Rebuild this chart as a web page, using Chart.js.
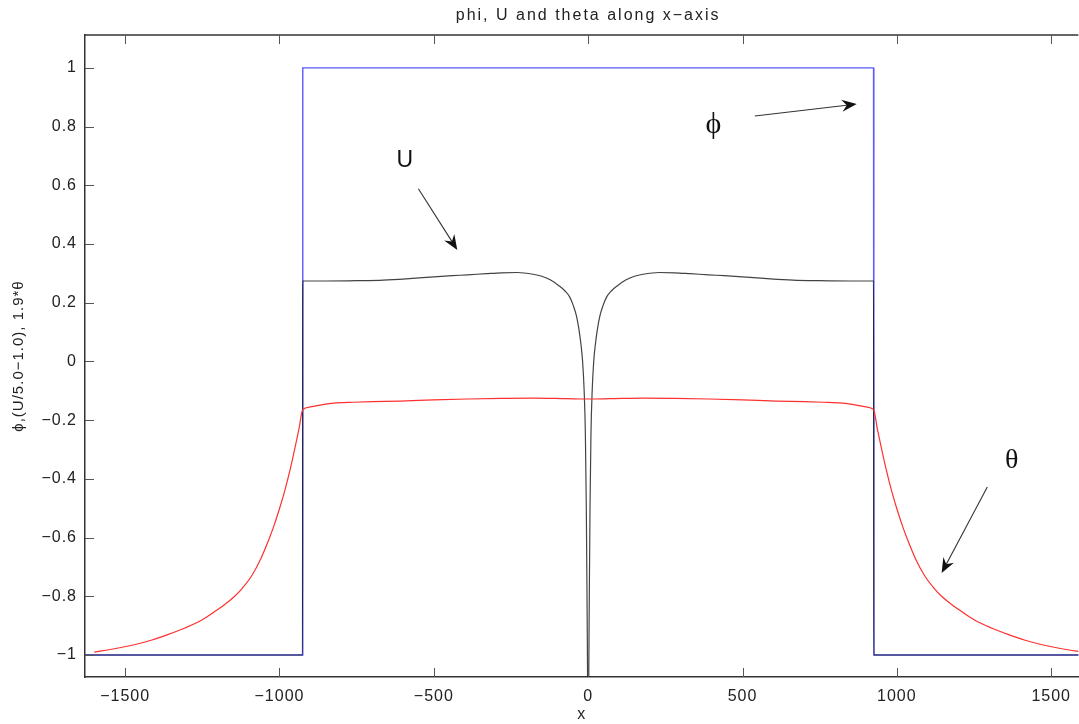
<!DOCTYPE html>
<html lang="en">
<head>
<meta charset="UTF-8">
<title>phi, U and theta along x-axis</title>
<script src="https://cdn.jsdelivr.net/npm/chart.js"></script>
<style>
  body { margin: 0; background: #fff; }
</style>
</head>
<body>
<canvas id="plot" width="1079" height="724"></canvas>
<script>
// tick labels
const xTicks = [-1500, -1000, -500, 0, 500, 1000, 1500];
const yTicks = [-1, -0.8, -0.6, -0.4, -0.2, 0, 0.2, 0.4, 0.6, 0.8, 1];

// phi (blue)
const phiX = [-1630, -925.5, -924.5, 924.5, 925.5, 1630];
const phiY = [-1, -1, 1, 1, -1, -1];

// U/5.0 - 1.0 (black)
const uX = [-1630, -925.5, -924.5, -850, -750, -663, -580, -500, -440, -390, -330, -280, -230, -178, -150, -123, -95, -75, -60, -48, -38, -30, -23, -18, -13, -9, -6, -3, 0,
            3, 6, 9, 13, 18, 23, 30, 38, 48, 60, 75, 95, 123, 150, 178, 230, 280, 330, 390, 440, 500, 580, 663, 750, 850, 924.5, 925.5, 1630];
const uY = [-1, -1, 0.274, 0.274, 0.275, 0.277, 0.282, 0.288, 0.292, 0.295, 0.299, 0.302, 0.303, 0.297, 0.29, 0.278, 0.258, 0.24, 0.22, 0.19, 0.155, 0.11, 0.055, 0.0, -0.1, -0.25, -0.5, -0.9, -1.3,
            -0.9, -0.5, -0.25, -0.1, 0.0, 0.055, 0.11, 0.155, 0.19, 0.22, 0.24, 0.258, 0.278, 0.29, 0.297, 0.303, 0.302, 0.299, 0.295, 0.292, 0.288, 0.282, 0.277, 0.275, 0.274, 0.274, -1, -1];

// 1.9*theta (red)
const thX = [-1600, -1530, -1470, -1413, -1360, -1306, -1250, -1200, -1175, -1145, -1120, -1090, -1060, -1038, -1020, -1000, -983, -965, -950, -937, -925,
             -900, -860, -824, -760, -700, -608, -500, -391, -280, -178, -68, 0,
             68, 178, 280, 391, 500, 608, 700, 760, 824, 860, 900,
             925, 937, 950, 965, 983, 1000, 1020, 1038, 1060, 1090, 1120, 1145, 1175, 1200, 1250, 1306, 1360, 1413, 1470, 1530, 1600];
const thY = [-0.99, -0.978, -0.965, -0.949, -0.93, -0.908, -0.88, -0.845, -0.826, -0.8, -0.772, -0.73, -0.671, -0.616, -0.566, -0.502, -0.441, -0.366, -0.295, -0.231, -0.165,
             -0.155, -0.147, -0.142, -0.139, -0.137, -0.135, -0.131, -0.128, -0.126, -0.125, -0.127, -0.128,
             -0.127, -0.125, -0.126, -0.128, -0.131, -0.135, -0.137, -0.139, -0.142, -0.147, -0.155,
             -0.165, -0.231, -0.295, -0.366, -0.441, -0.502, -0.566, -0.616, -0.671, -0.73, -0.772, -0.8, -0.826, -0.845, -0.88, -0.908, -0.93, -0.949, -0.965, -0.978, -0.99];

// text notes with arrows (data coordinates)
const notes = [
  { text: 'U', font: '23px "Liberation Sans", Arial', x: -592, y: 0.683, from: [-550, 0.588], to: [-424, 0.38] },
  { text: '\u03D5', font: '30px "Liberation Serif", serif', x: 407, y: 0.806, from: [540, 0.836], to: [870, 0.877] },
  { text: '\u03B8', font: '28px "Liberation Serif", serif', x: 1374, y: -0.339, from: [1293, -0.428], to: [1145, -0.721] }
];

const pts = (xs, ys) => xs.map((x, i) => ({ x: x, y: ys[i] }));
const fmt = v => String(v).replace('-', '\u2212');
const font = { family: '"Liberation Sans", Arial, sans-serif', size: 16 };

const frame = {
  id: 'frame',
  beforeDraw(chart) {
    chart.ctx.letterSpacing = '1px';
  },
  afterDatasetsDraw(chart) {
    const { ctx, scales: { x, y } } = chart;
    ctx.save();
    ctx.fillStyle = '#111';
    ctx.strokeStyle = '#333';
    ctx.lineWidth = 1.1;
    ctx.textAlign = 'center';
    ctx.textBaseline = 'middle';
    notes.forEach(n => {
      ctx.font = n.font;
      ctx.fillText(n.text, x.getPixelForValue(n.x), y.getPixelForValue(n.y));
      const x0 = x.getPixelForValue(n.from[0]), y0 = y.getPixelForValue(n.from[1]);
      const x1 = x.getPixelForValue(n.to[0]), y1 = y.getPixelForValue(n.to[1]);
      const ang = Math.atan2(y1 - y0, x1 - x0);
      const L = 15, W = 6;
      const bx = x1 - L * Math.cos(ang), by = y1 - L * Math.sin(ang);
      ctx.beginPath();
      ctx.moveTo(x0, y0);
      ctx.lineTo(x1 - 8 * Math.cos(ang), y1 - 8 * Math.sin(ang));
      ctx.stroke();
      ctx.beginPath();
      ctx.moveTo(x1, y1);
      ctx.lineTo(bx - W * Math.sin(ang), by + W * Math.cos(ang));
      ctx.lineTo(x1 - 10 * Math.cos(ang), y1 - 10 * Math.sin(ang));
      ctx.lineTo(bx + W * Math.sin(ang), by - W * Math.cos(ang));
      ctx.closePath();
      ctx.fill();
    });
    ctx.restore();
  },
  afterDraw(chart) {
    const { ctx, chartArea: a, scales: { x, y } } = chart;
    ctx.save();
    ctx.strokeStyle = '#333';
    ctx.lineWidth = 1.5;
    ctx.beginPath();
    ctx.moveTo(a.left, a.top);
    ctx.lineTo(a.right, a.top);
    ctx.stroke();
    ctx.strokeStyle = '#555';
    ctx.lineWidth = 1;
    ctx.beginPath();
    xTicks.forEach(v => {
      const p = Math.round(x.getPixelForValue(v)) + 0.5;
      ctx.moveTo(p, a.bottom); ctx.lineTo(p, a.bottom - 9);
      ctx.moveTo(p, a.top); ctx.lineTo(p, a.top + 9);
    });
    yTicks.forEach(v => {
      const p = Math.round(y.getPixelForValue(v)) + 0.5;
      ctx.moveTo(a.left, p); ctx.lineTo(a.left + 9, p);
    });
    ctx.stroke();
    // title
    ctx.fillStyle = '#222';
    ctx.font = '16px "Liberation Sans", Arial, sans-serif';
    ctx.letterSpacing = '2px';
    ctx.textAlign = 'center';
    ctx.textBaseline = 'middle';
    ctx.fillText('phi, U and theta along x\u2212axis', x.getPixelForValue(0), 16);
    ctx.restore();
  }
};

new Chart(document.getElementById('plot'), {
  type: 'line',
  data: {
    datasets: [
      { label: '1.9*theta', data: pts(thX, thY), borderColor: '#ff3030', borderWidth: 1.2, pointRadius: 0, cubicInterpolationMode: 'monotone', order: 0 },
      { label: 'U/5.0-1.0', data: pts(uX, uY), borderColor: 'rgba(20,20,20,0.8)', borderWidth: 1.2, pointRadius: 0, cubicInterpolationMode: 'monotone', order: 1 },
      { label: 'phi', data: pts(phiX, phiY), borderColor: '#5a5aff', borderWidth: 1.4, pointRadius: 0, tension: 0, order: 2 }
    ]
  },
  options: {
    responsive: false,
    animation: false,
    devicePixelRatio: 1,
    layout: { padding: { top: 35, left: 0, right: 0, bottom: 0 } },
    plugins: { legend: { display: false }, tooltip: { enabled: false }, title: { display: false } },
    scales: {
      x: {
        type: 'linear', min: -1630, max: 1588,
        afterBuildTicks: s => { s.ticks = xTicks.map(v => ({ value: v })); },
        afterFit: s => { s.height = 47; },
        grid: { drawOnChartArea: false, drawTicks: false },
        border: { display: true, color: '#333', width: 1.5 },
        ticks: { padding: 10, font: font, color: '#222', autoSkip: false, maxRotation: 0, callback: v => fmt(v) },
        title: { display: true, text: 'x', font: font, color: '#222', padding: { top: 0, bottom: 0 } }
      },
      y: {
        type: 'linear', min: -1.075, max: 1.112,
        afterBuildTicks: s => { s.ticks = yTicks.map(v => ({ value: v })); },
        afterFit: s => { s.width = 85; },
        grid: { drawOnChartArea: false, drawTicks: false },
        border: { display: true, color: '#333', width: 1.5 },
        ticks: { padding: 8, font: font, color: '#222', autoSkip: false, callback: v => fmt(v) },
        title: { display: true, text: '\u03D5,(U/5.0\u22121.0), 1.9*\u03B8', font: { family: font.family, size: 15 }, color: '#222', padding: { top: 10, bottom: 0 } }
      }
    }
  },
  plugins: [frame]
});
</script>
</body>
</html>
